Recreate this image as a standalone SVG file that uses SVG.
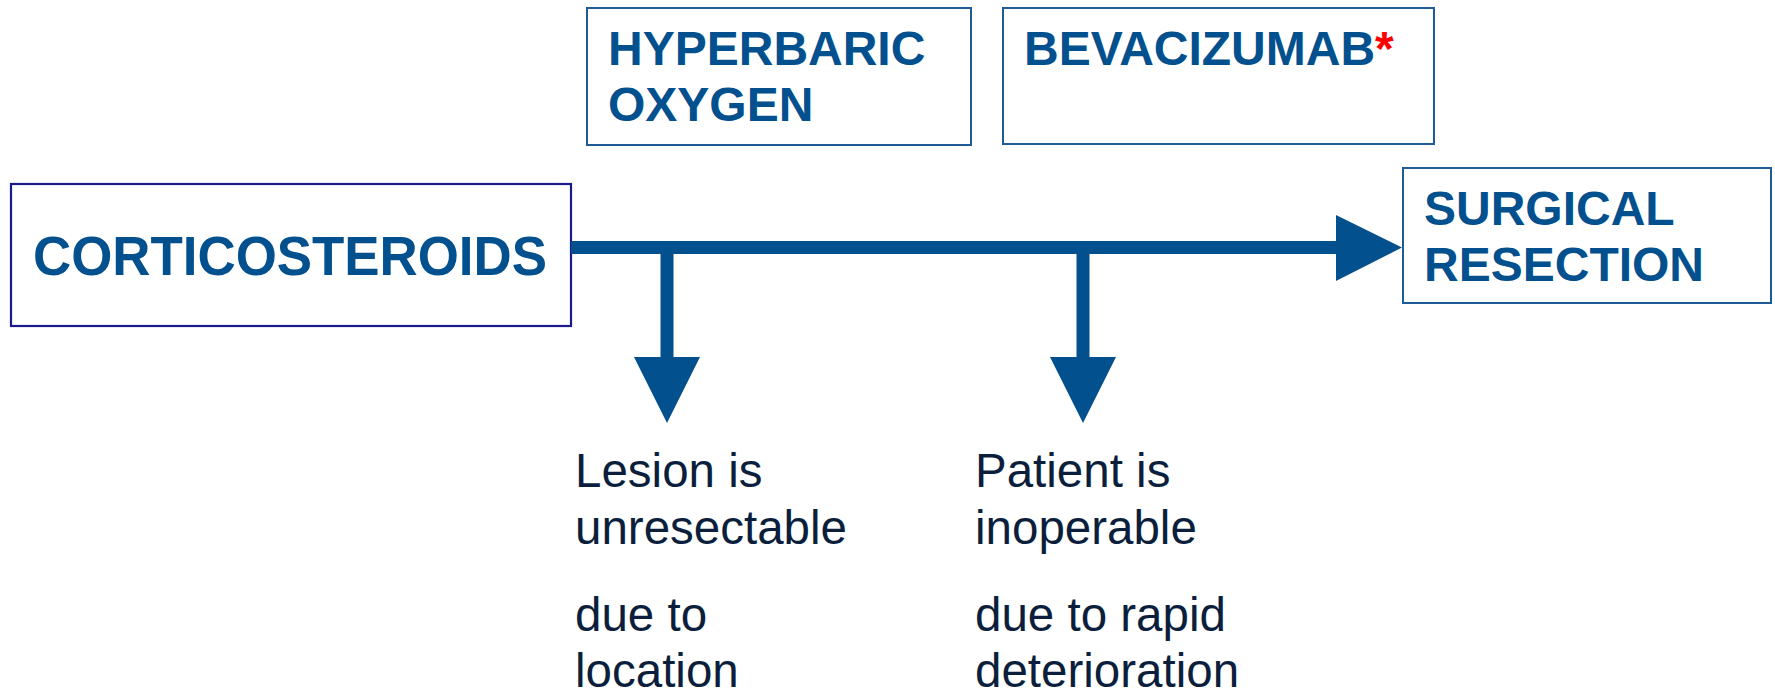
<svg xmlns="http://www.w3.org/2000/svg" width="1775" height="694" viewBox="0 0 1775 694">
<style>
.box{fill:#fff;stroke:#1f5b98;stroke-width:2}
.box2{fill:#fff;stroke:#1a1a8a;stroke-width:2.2}
.t{font-family:"Liberation Sans",Arial,sans-serif;font-weight:bold;fill:#03508f;font-size:48px}
.b{font-family:"Liberation Sans",Arial,sans-serif;fill:#0b1f3d;font-size:47.5px}
.ar{fill:#03508f}
</style>
<rect width="1775" height="694" fill="#fff"/>
<g id="corticosteroids">
<rect class="box2" x="11" y="184" width="560" height="142"/>
<text class="t" x="33" y="275" style="font-size:56px" textLength="514" lengthAdjust="spacingAndGlyphs">CORTICOSTEROIDS</text>
</g>
<g id="hyperbaric">
<rect class="box" x="587" y="8" width="384" height="137"/>
<text class="t" x="608" y="65">HYPERBARIC</text>
<text class="t" x="608" y="121">OXYGEN</text>
</g>
<g id="bevacizumab">
<rect class="box" x="1003" y="8" width="431" height="136"/>
<text class="t" x="1024" y="65">BEVACIZUMAB<tspan fill="#ff0000">*</tspan></text>
</g>
<g id="surgical">
<rect class="box" x="1403" y="168" width="368" height="135"/>
<text class="t" x="1424" y="225">SURGICAL</text>
<text class="t" x="1424" y="281">RESECTION</text>
</g>
<g id="connectors">
<rect class="ar" x="571" y="241" width="766" height="13"/>
<polygon class="ar" points="1336,215 1402,247.5 1336,281"/>
<rect class="ar" x="660.5" y="247" width="13" height="111"/>
<polygon class="ar" points="634,357 700,357 667,423"/>
<rect class="ar" x="1076.5" y="247" width="13" height="111"/>
<polygon class="ar" points="1050,357 1116,357 1083,423"/>
</g>
<g id="label-lesion">
<text class="b" x="575" y="487">Lesion is</text>
<text class="b" x="575" y="544">unresectable</text>
<text class="b" x="575" y="631">due to</text>
<text class="b" x="575" y="687">location</text>
</g>
<g id="label-patient">
<text class="b" x="975" y="487">Patient is</text>
<text class="b" x="975" y="544">inoperable</text>
<text class="b" x="975" y="631">due to rapid</text>
<text class="b" x="975" y="687">deterioration</text>
</g>
</svg>
